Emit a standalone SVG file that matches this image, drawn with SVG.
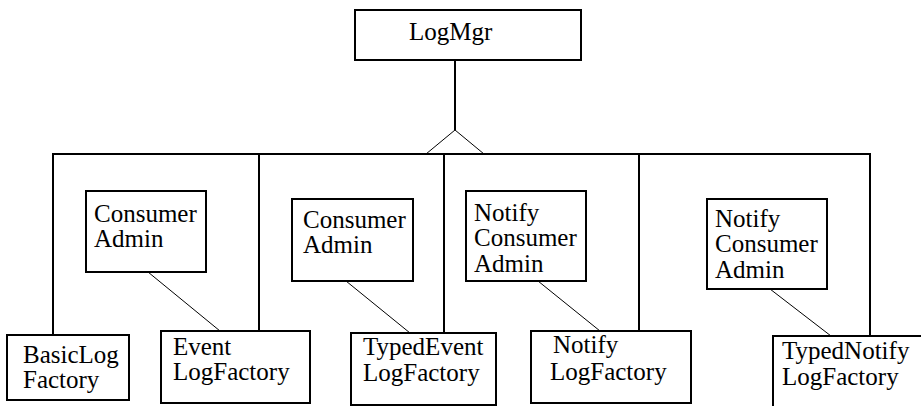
<svg xmlns="http://www.w3.org/2000/svg" width="921" height="406" viewBox="0 0 921 406">
  <style>
    .box { fill: #fff; stroke: #000; stroke-width: 2; }
    .lbl { font-family: 'Liberation Serif', Tinos, 'Times New Roman', Times, 'DejaVu Serif', 'Noto Serif', FreeSerif, serif; font-size: 25px; fill: #000; }
    .bus { fill: none; stroke: #000; stroke-width: 2; }
    .assoc { fill: none; stroke: #000; stroke-width: 1; }
  </style>
  <rect width="921" height="406" fill="#fff"/>

  <!-- connectors: inheritance bus and associations -->
  <g id="connectors">
    <line class="bus" x1="455" y1="60" x2="455" y2="130"/>
    <polyline class="assoc" points="426,154 455,130 484,154" stroke-width="1.5"/>
    <polyline class="bus" points="53,335 53,154 870,154 870,336"/>
    <line class="bus" x1="259" y1="154" x2="259" y2="331"/>
    <line class="bus" x1="444" y1="154" x2="444" y2="333"/>
    <line class="bus" x1="639" y1="154" x2="639" y2="331"/>
    <line class="assoc" x1="148" y1="272" x2="220" y2="331"/>
    <line class="assoc" x1="346" y1="281" x2="410" y2="333"/>
    <line class="assoc" x1="538" y1="281" x2="600" y2="331"/>
    <line class="assoc" x1="770" y1="289" x2="831" y2="336"/>
  </g>

  <g id="logmgr">
    <rect class="box" x="355" y="10" width="226" height="50"/>
    <text class="lbl" x="409" y="40">LogMgr</text>
  </g>

  <g id="consumer-admin-1">
    <rect class="box" x="86" y="191" width="120" height="81"/>
    <text class="lbl" x="94" y="222">Consumer</text>
    <text class="lbl" x="94" y="247">Admin</text>
  </g>

  <g id="consumer-admin-2">
    <rect class="box" x="292" y="199" width="121" height="82"/>
    <text class="lbl" x="303" y="228">Consumer</text>
    <text class="lbl" x="303" y="253">Admin</text>
  </g>

  <g id="notify-consumer-admin-1">
    <rect class="box" x="466" y="191" width="120" height="90"/>
    <text class="lbl" x="474" y="221">Notify</text>
    <text class="lbl" x="474" y="246">Consumer</text>
    <text class="lbl" x="474" y="272">Admin</text>
  </g>

  <g id="notify-consumer-admin-2">
    <rect class="box" x="707" y="199" width="120" height="90"/>
    <text class="lbl" x="715" y="227">Notify</text>
    <text class="lbl" x="715" y="252">Consumer</text>
    <text class="lbl" x="715" y="278">Admin</text>
  </g>

  <g id="basic-log-factory">
    <rect class="box" x="7" y="335" width="122" height="65"/>
    <text class="lbl" x="23" y="363">BasicLog</text>
    <text class="lbl" x="23" y="388">Factory</text>
  </g>

  <g id="event-log-factory">
    <rect class="box" x="161" y="331" width="149" height="72"/>
    <text class="lbl" x="173" y="355">Event</text>
    <text class="lbl" x="173" y="380">LogFactory</text>
  </g>

  <g id="typed-event-log-factory">
    <rect class="box" x="351" y="333" width="145" height="72"/>
    <text class="lbl" x="363" y="355">TypedEvent</text>
    <text class="lbl" x="363" y="381">LogFactory</text>
  </g>

  <g id="notify-log-factory">
    <rect class="box" x="531" y="331" width="160" height="72"/>
    <text class="lbl" x="553" y="353">Notify</text>
    <text class="lbl" x="550" y="380">LogFactory</text>
  </g>

  <g id="typed-notify-log-factory">
    <rect class="box" x="773" y="336" width="170" height="90"/>
    <text class="lbl" x="782" y="359">TypedNotify</text>
    <text class="lbl" x="782" y="385">LogFactory</text>
  </g>
</svg>
